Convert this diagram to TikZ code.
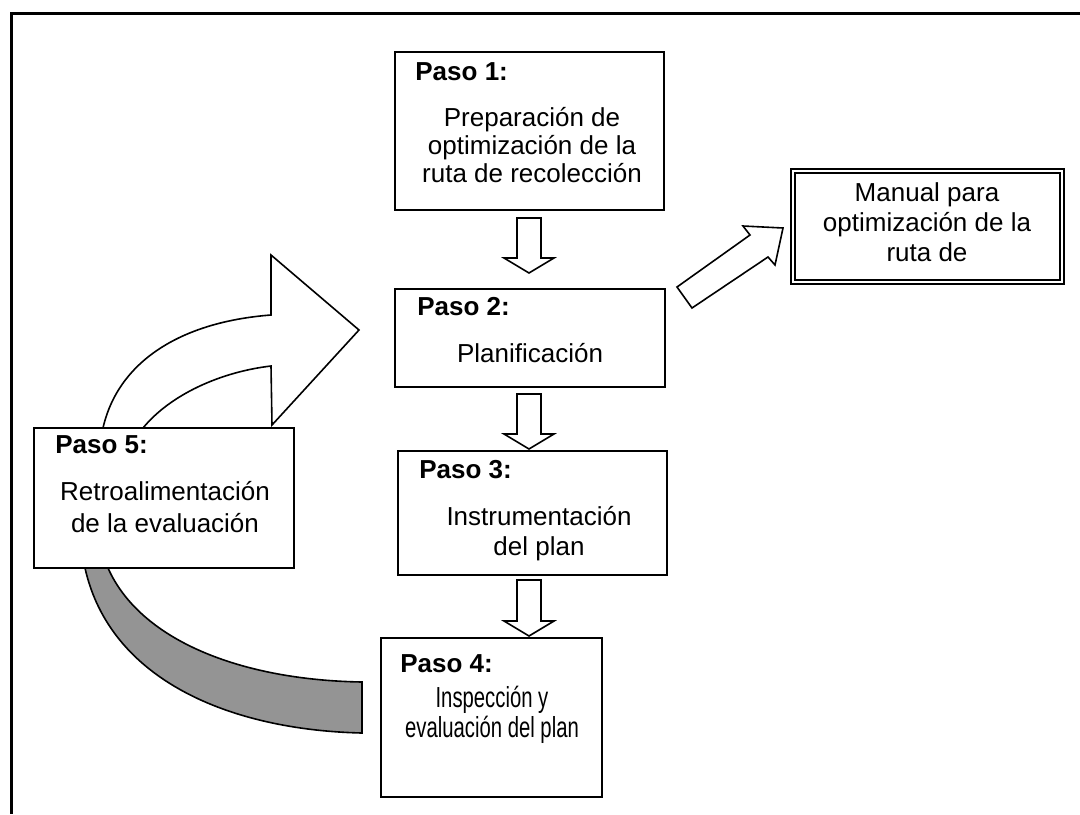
\documentclass[tikz,border=0pt]{standalone}
\usepackage{fontspec}
\setmainfont{Liberation Sans}
\newfontfamily\narrowfont[FakeStretch=0.7]{Liberation Sans}
\usetikzlibrary{calc,fit}
\newcommand\bdown[2]{\draw[blockarrow] ($(#1)+(-12,0)$) -- ($(#2)+(-12,-15)$) -- ($(#2)+(-25,-15)$) -- (#2) -- ($(#2)+(25,-15)$) -- ($(#2)+(12,-15)$) -- ($(#1)+(12,0)$) -- cycle;}
\begin{document}
\begin{tikzpicture}[x=0.5pt,y=-0.5pt,
  box/.style={draw, line width=1pt, fill=white, inner sep=0pt},
  dbox/.style={draw, line width=0.8pt, double, double distance=1.4pt, fill=white, inner sep=0pt},
  head/.style={anchor=base west, inner sep=0pt, font=\fontsize{13}{15}\selectfont\bfseries},
  body/.style={anchor=base, inner sep=0pt, align=center, font=\fontsize{13}{15}\selectfont},
  blockarrow/.style={draw, line width=0.8pt, fill=white, line join=miter},
  shadearrow/.style={draw, line width=0.8pt, fill=black!42},
  frame/.style={line width=1.5pt}]
\useasboundingbox (0,0) rectangle (1080,814);
% frame
\draw[frame] (10,13) -- (1080,13);
\draw[frame] (11,13) -- (11,814);
% curved feedback arrows
\draw[blockarrow] (103,428) .. controls (118,362) and (180,322) .. (271,315) -- (271,255) -- (359,330) -- (272,425) -- (271,366) .. controls (220,372) and (170,395) .. (143,428) -- cycle;
\draw[shadearrow] (85,568) .. controls (110,680) and (230,730) .. (362,733) -- (362,682) .. controls (240,680) and (140,640) .. (108,568) -- cycle;
% boxes
\node[box, fit={(395,52) (664,210)}] (p1) {};
\node[box, fit={(395,289) (665,387)}] (p2) {};
\node[box, fit={(398,451) (667,575)}] (p3) {};
\node[box, fit={(381,638) (602,797)}] (p4) {};
\node[box, fit={(34,428) (294,568)}] (p5) {};
\node[dbox, fit={(793,171) (1062,282)}] (man) {};
% texts
\node[head] (p1h) at (415,80) {Paso 1:};
\node[body, font=\fontsize{13}{14}\selectfont] (p1t) at (532,182) {Preparación de\\optimización de la\\ruta de recolección};
\node[head] (p2h) at (417,315) {Paso 2:};
\node[body] (p2t) at (530,362) {Planificación};
\node[head] (p3h) at (419,478) {Paso 3:};
\node[body] (p3t) at (539,555) {Instrumentación\\del plan};
\node[head] (p4h) at (400,672) {Paso 4:};
\node[body, font=\fontsize{14.5}{15}\narrowfont] (p4t) at (492,737) {Inspección y\\evaluación del plan};
\node[head] (p5h) at (55,453) {Paso 5:};
\node[body, font=\fontsize{13}{16}\selectfont] (p5t) at (165,532) {Retroalimentación\\de la evaluación};
\node[body] (mant) at (927,261) {Manual para\\optimización de la\\ruta de};
% down block arrows
\coordinate (a1s) at (529,218); \coordinate (a1e) at (529,273);
\coordinate (a2s) at (529,394); \coordinate (a2e) at (529,449);
\coordinate (a3s) at (529,580); \coordinate (a3e) at (529,636);
\bdown{a1s}{a1e}
\bdown{a2s}{a2e}
\bdown{a3s}{a3e}
% diagonal block arrow to manual
\draw[blockarrow] (677,287) -- (750,235) -- (743,226) -- (783,228) -- (775,265) -- (768,257) -- (692,308) -- cycle;
\end{tikzpicture}
\end{document}
